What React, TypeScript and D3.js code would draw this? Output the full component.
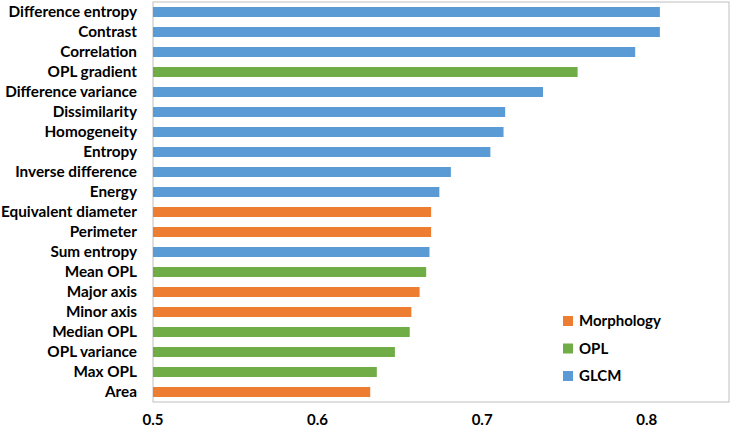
import React, { useEffect } from "react";
import * as d3 from "d3";

const features = [
  "Difference entropy", "Contrast", "Correlation", "OPL gradient", "Difference variance",
  "Dissimilarity", "Homogeneity", "Entropy", "Inverse difference", "Energy",
  "Equivalent diameter", "Perimeter", "Sum entropy", "Mean OPL", "Major axis",
  "Minor axis", "Median OPL", "OPL variance", "Max OPL", "Area",
];
const values = [
  0.808, 0.808, 0.793, 0.758, 0.737,
  0.714, 0.713, 0.705, 0.681, 0.674,
  0.669, 0.669, 0.668, 0.666, 0.662,
  0.657, 0.656, 0.647, 0.636, 0.632,
];
const groups = [
  "GLCM", "GLCM", "GLCM", "OPL", "GLCM",
  "GLCM", "GLCM", "GLCM", "GLCM", "GLCM",
  "Morphology", "Morphology", "GLCM", "OPL", "Morphology",
  "Morphology", "OPL", "OPL", "OPL", "Morphology",
];
const legendGroups = ["Morphology", "OPL", "GLCM"];
const groupColors = ["#ED7D31", "#70AD47", "#5B9BD5"];
const xTicks = [0.5, 0.6, 0.7, 0.8];

const W = 731, H = 430;
const M = { left: 153, right: 2, top: 2, bottom: 28 };
const FONT = "Lato, 'Open Sans', sans-serif";

export default function App() {
  useEffect(() => {
    document.body.style.margin = "0";
  }, []);
  const x = d3.scaleLinear().domain([0.5, 0.85]).range([M.left, W - M.right]);
  const y = d3.scaleBand().domain(features).range([M.top, H - M.bottom]).paddingInner(0.5).paddingOuter(0.25);
  const color = d3.scaleOrdinal<string, string>().domain(legendGroups).range(groupColors);
  const legendY = d3.scalePoint().domain(legendGroups).range([321, 376]);

  return (
    <svg width={W} height={H} style={{ display: "block", background: "#fff" }} fontFamily={FONT}>
      <rect x={M.left} y={M.top} width={W - M.right - M.left} height={H - M.bottom - M.top}
        fill="none" stroke="#BFBFBF" strokeWidth={1} />
      {features.map((f, i) => (
        <rect key={f} x={x(0.5)} y={y(f)!} width={x(values[i]) - x(0.5)} height={y.bandwidth()}
          fill={color(groups[i])} />
      ))}
      {features.map((f) => (
        <text key={f} x={137} y={y(f)! + y.bandwidth() / 2} dy="0.35em" textAnchor="end"
          fontWeight="bold" fontSize={15.3} fill="#000">{f}</text>
      ))}
      {xTicks.map((t) => (
        <text key={t} x={x(t)} y={420} dy="0.35em" textAnchor="middle" fontWeight="bold"
          fontSize={15} fill="#000">{d3.format(".1f")(t)}</text>
      ))}
      {legendGroups.map((g) => (
        <g key={g}>
          <rect x={563} y={legendY(g)! - 5} width={10} height={10} fill={color(g)} />
          <text x={579} y={legendY(g)!} dy="0.35em" fontWeight="bold" fontSize={15} fill="#000">{g}</text>
        </g>
      ))}
    </svg>
  );
}
